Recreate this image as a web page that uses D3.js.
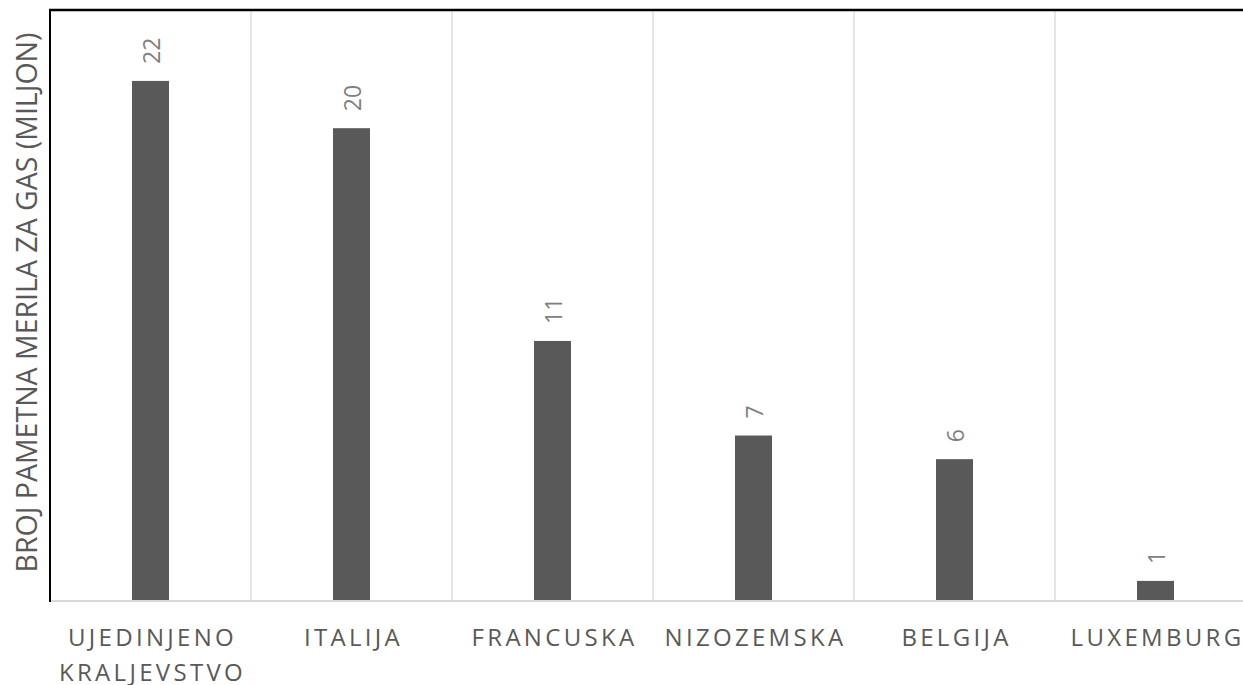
<!DOCTYPE html>
<html><head><meta charset="utf-8">
<script src="https://cdn.jsdelivr.net/npm/d3@7/dist/d3.min.js"></script>
<style>
html,body{margin:0;padding:0;background:#fff;overflow:hidden}
text{font-family:"Open Sans",sans-serif}
</style></head>
<body><svg id="c" width="1243" height="685"></svg>
<script>
const categories = [["UJEDINJENO","KRALJEVSTVO"],["ITALIJA"],["FRANCUSKA"],["NIZOZEMSKA"],["BELGIJA"],["LUXEMBURG"]];
const values = [22, 20, 11, 7, 6, 0.85];
const yTitle = "BROJ PAMETNA MERILA ZA GAS (MILJON)";

(function () {
const svg = d3.select("#c");
const pL = 50, pT = 10, pB = 601, pR = 1256;
const x = d3.scaleBand().domain(d3.range(categories.length)).range([pL, pR]).paddingInner(0).paddingOuter(0);
const y = d3.scaleLinear().domain([0, 25]).range([pB, pT]);
const barW = 37;

// vertical gridlines between categories
svg.append("g").selectAll("line").data(d3.range(1, categories.length + 1)).join("line")
  .attr("x1", i => x.step() * i + pL).attr("x2", i => x.step() * i + pL)
  .attr("y1", pT).attr("y2", pB)
  .attr("stroke", "#d9d9d9").attr("stroke-width", 1.3);

// bars
svg.append("g").selectAll("rect").data(values).join("rect")
  .attr("x", (d, i) => x(i) + x.bandwidth() / 2 - barW / 2)
  .attr("width", barW)
  .attr("y", d => y(d))
  .attr("height", d => y(0) - y(d))
  .attr("fill", "#595959");

// value labels
const fmt = d3.format(".0f");
svg.append("g").selectAll("text").data(values).join("text")
  .attr("transform", (d, i) => `translate(${x(i) + x.bandwidth() / 2 + 1},${y(d) - 17}) rotate(-90)`)
  .attr("dy", "0.35em")
  .attr("text-anchor", "start")
  .attr("font-size", 23)
  .attr("fill", "#7f7f7f")
  .text(d => fmt(d));

// bottom axis line
svg.append("line").attr("x1", pL).attr("x2", pR).attr("y1", pB).attr("y2", pB)
  .attr("stroke", "#d9d9d9").attr("stroke-width", 2);

// frame: left and top black
svg.append("line").attr("x1", pL).attr("x2", pL).attr("y1", pT).attr("y2", pB + 1)
  .attr("stroke", "#000").attr("stroke-width", 2);
svg.append("line").attr("x1", pL - 1).attr("x2", pR).attr("y1", pT).attr("y2", pT)
  .attr("stroke", "#000").attr("stroke-width", 2.5);

// category labels
const xg = svg.append("g");
categories.forEach((lines, i) => {
  const cx = x(i) + x.bandwidth() / 2 + 2;
  const t = xg.append("text")
    .attr("x", cx)
    .attr("y", 646)
    .attr("text-anchor", "middle")
    .attr("font-size", 24)
    .attr("letter-spacing", "3.3px")
    .attr("fill", "#595959");
  lines.forEach((l, j) => {
    t.append("tspan").attr("x", cx).attr("dy", j === 0 ? 0 : 35).text(l);
  });
});

// y title
svg.append("text")
  .attr("transform", `translate(37,${(30 + 575) / 2}) rotate(-90)`)
  .attr("text-anchor", "middle")
  .attr("font-size", 28.5)
  .attr("fill", "#595959")
  .text(yTitle);
})();
</script></body></html>
